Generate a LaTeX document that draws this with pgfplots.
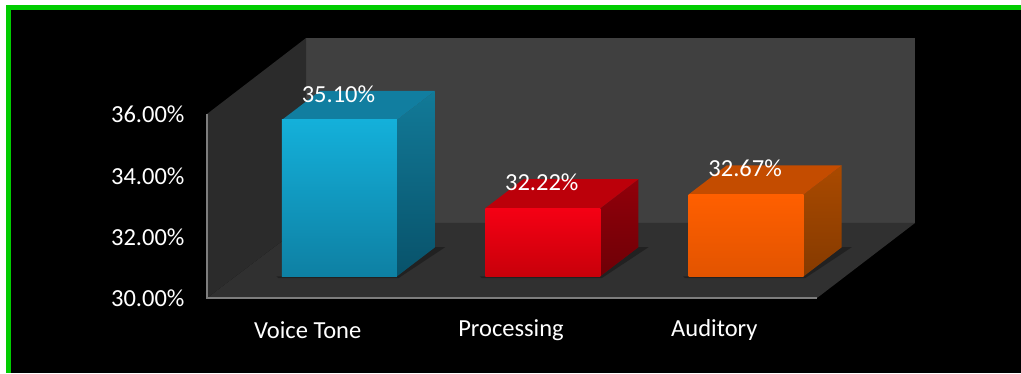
\documentclass[border=0pt]{standalone}
\usepackage{pgfplots}
\pgfplotsset{compat=1.18}
\usepackage{fontspec}
\setmainfont{Carlito}
\definecolor{wallback}{RGB}{64,64,64}
\definecolor{wallleft}{RGB}{43,43,43}
\definecolor{wallfloor}{RGB}{48,48,48}
\definecolor{axisgray}{RGB}{125,125,125}
\definecolor{bordergreen}{RGB}{0,204,0}
\definecolor{bluetop}{RGB}{20,176,218}\definecolor{bluebot}{RGB}{14,128,163}
\definecolor{bluesidet}{RGB}{18,122,152}\definecolor{bluesideb}{RGB}{8,82,106}
\definecolor{bluecap}{RGB}{17,126,160}
\definecolor{redtop}{RGB}{245,0,20}\definecolor{redbot}{RGB}{200,0,10}
\definecolor{redsidet}{RGB}{145,0,10}\definecolor{redsideb}{RGB}{110,0,6}
\definecolor{redcap}{RGB}{188,0,10}
\definecolor{ortop}{RGB}{255,95,0}\definecolor{orbot}{RGB}{226,84,0}
\definecolor{orsidet}{RGB}{170,74,0}\definecolor{orsideb}{RGB}{133,58,0}
\definecolor{orcap}{RGB}{196,76,0}
\begin{document}
\begin{tikzpicture}[x=1pt,y=1pt]
\fill[white] (0,0) rectangle (1021,373);
\fill[bordergreen] (6,0) rectangle (1021,368);
\fill[black] (10.5,0) rectangle (1021,363);
\begin{axis}[
  at={(207pt,75pt)}, anchor=south west,
  scale only axis, width=610pt, height=184pt,
  xmin=-0.5, xmax=2.5, ymin=30, ymax=36,
  clip=false,
  axis x line*=bottom, axis y line*=left,
  axis line style={draw=none},
  major tick length=0pt,
  ytick={30,32,34,36},
  yticklabels={30.00\%,32.00\%,34.00\%,36.00\%},
  xtick={0,1,2},
  xticklabels={Voice Tone,Processing,Auditory},
  tick label style={text=white,font=\fontsize{24.5}{28}\selectfont},
  yticklabel style={anchor=east,xshift=-19pt,yshift=-0.5pt},
  xticklabel style={anchor=center,yshift=-32pt,xshift=-1pt},
  depth/.style={xshift=30.8pt,yshift=21.7pt,forget plot},
]
% walls
\addplot[draw=none,fill=wallback,forget plot] coordinates {(-0.013,32.446) (-0.013,38.478) (2.982,38.478) (2.982,32.446)} -- cycle;
\addplot[draw=none,fill=wallleft,forget plot] coordinates {(-0.5,30) (-0.013,32.446) (-0.013,38.478) (-0.5,36)} -- cycle;
\addplot[draw=none,fill=wallfloor,forget plot] coordinates {(-0.5,30) (2.5,30) (2.982,32.446) (-0.013,32.446)} -- cycle;
\addplot[axisgray,line width=1.5pt,forget plot] coordinates {(-0.5,36) (-0.5,30) (2.5,30)};

% shadows on the floor, side faces, caps
\addplot[depth,draw=none,fill=black,opacity=.3] coordinates {(-0.31,30) (-0.30,29.94) (0.29,29.94) (0.52,30.95) (0.47,30.95) (0.2828,30)} -- cycle;
\addplot[depth,draw=none,fill=black,opacity=.3] coordinates {(0.69,30) (0.70,29.94) (1.29,29.94) (1.52,30.95) (1.47,30.95) (1.2828,30)} -- cycle;
\addplot[depth,draw=none,fill=black,opacity=.3] coordinates {(1.69,30) (1.70,29.94) (2.29,29.94) (2.52,30.95) (2.47,30.95) (2.2828,30)} -- cycle;

\addplot[depth,draw=none,bottom color=bluesideb,top color=bluesidet] coordinates {(0.2828,30) (0.2828,35.10) (0.4697,36.045) (0.4697,30.945)} -- cycle;
\addplot[depth,draw=none,fill=bluecap] coordinates {(-0.2828,35.10) (0.2828,35.10) (0.4697,36.045) (-0.0959,36.045)} -- cycle;
\addplot[depth,draw=none,bottom color=redsideb,top color=redsidet] coordinates {(1.2828,30) (1.2828,32.22) (1.4697,33.165) (1.4697,30.945)} -- cycle;
\addplot[depth,draw=none,fill=redcap] coordinates {(0.7172,32.22) (1.2828,32.22) (1.4697,33.165) (0.9041,33.165)} -- cycle;
\addplot[depth,draw=none,bottom color=orsideb,top color=orsidet] coordinates {(2.2828,30) (2.2828,32.67) (2.4697,33.615) (2.4697,30.945)} -- cycle;
\addplot[depth,draw=none,fill=orcap] coordinates {(1.7172,32.67) (2.2828,32.67) (2.4697,33.615) (1.9041,33.615)} -- cycle;

% bars with their value labels
\pgfplotsset{barstyle/.style={ybar,bar width=115pt,bar shift=0pt,draw=none,xshift=30.8pt,yshift=21.7pt,
  nodes near coords={\pgfmathprintnumber[fixed,fixed zerofill,precision=2,assume math mode=true]{\pgfplotspointmeta}\%},
  point meta=y,
  nodes near coords style={text=white,font=\fontsize{24.5}{28}\selectfont,anchor=center,yshift=26pt,xshift=-1pt}}}
\addplot[barstyle,bottom color=bluebot,top color=bluetop] coordinates {(0,35.10)};
\addplot[barstyle,bottom color=redbot,top color=redtop] coordinates {(1,32.22)};
\addplot[barstyle,bottom color=orbot,top color=ortop] coordinates {(2,32.67)};
\end{axis}
\end{tikzpicture}
\end{document}
